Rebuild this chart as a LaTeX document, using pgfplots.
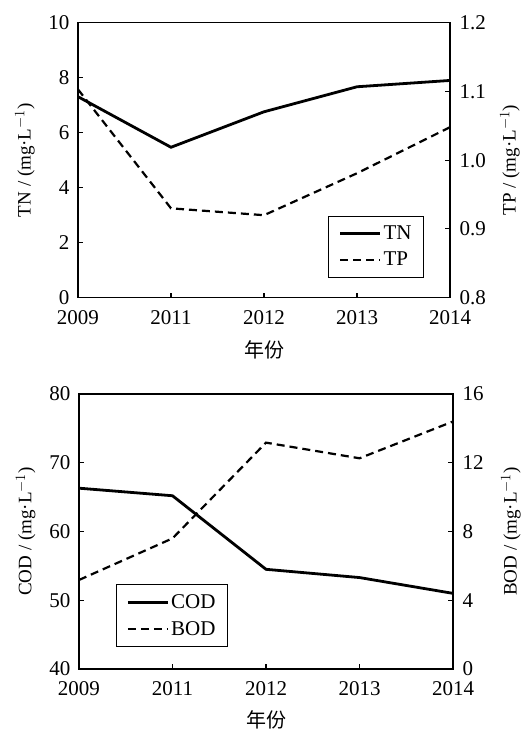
\documentclass[border=0pt]{standalone}
\usepackage{fontspec}
\setmainfont{Liberation Serif}
\newfontfamily\cjk{Noto Sans CJK SC}
\usepackage{pgfplots}
\pgfplotsset{compat=1.18}
\newcommand{\fs}{\fontsize{21}{25}\selectfont}
\newcommand{\fl}{\fontsize{19}{23}\selectfont}
\pgfplotsset{
  base/.style={
    scale only axis, width=372pt, height=275pt,
    xmin=0, xmax=4,
    /pgf/number format/assume math mode=true,
    tick label style={font=\fs},
    tick align=inside,
    major tick length=5pt,
    every tick/.style={black, line width=1.1pt},
    axis line style={line width=1.2pt},
    legend style={font=\fs, draw=black, line width=0.8pt, inner xsep=10pt, inner ysep=8pt, row sep=7pt},
    legend cell align=left,
    legend image code/.code={\draw[##1] (0pt,0pt) -- (40pt,0pt);},
  },
  leftax/.style={base,
    xtick={0,1,2,3,4},
    xticklabels={2009,2011,2012,2013,2014},
    xticklabel style={yshift=-9pt},
    yticklabel style={xshift=-5pt},
    xtick pos=bottom, ytick pos=left,
    every axis y label/.style={at={(axis description cs:-0.1425,0.5)}, anchor=center, rotate=90, font=\fl},
    every axis x label/.style={at={(axis description cs:0.5,-0.19)}, anchor=center},
  },
  rightax/.style={base,
    axis x line=none, axis y line*=right, ytick pos=right,
    yticklabel style={xshift=6pt},
    every axis y label/.style={at={(axis description cs:1.161,0.5)}, anchor=center, rotate=90, font=\fl},
  },
  sol/.style={black, solid, line width=2.8pt},
  das/.style={black, line width=2.2pt, dash pattern=on 8pt off 5pt},
}
\begin{document}
\begin{tikzpicture}
\path[use as bounding box] (0,0) rectangle (531pt,734pt);
% ---------- top panel ----------
\begin{axis}[leftax, at={(78pt,436.3pt)}, anchor=south west,
  ymin=0, ymax=10, ytick={0,2,4,6,8,10},
  ylabel={TN / (mg·L$^{-1}$)}, xlabel={\cjk\fontsize{20}{24}\selectfont 年份}]
\addplot[sol] coordinates {(0,7.31) (1,5.47) (2,6.76) (3,7.67) (4,7.90)};
\end{axis}
\begin{axis}[rightax, at={(78pt,436.3pt)}, anchor=south west,
  ymin=0.8, ymax=1.2, ytick={0.8,0.9,1.0,1.1,1.2},
  yticklabel style={/pgf/number format/.cd, fixed, fixed zerofill, precision=1},
  ylabel={TP / (mg·L$^{-1}$)},
  legend style={at={(0.93,0.072)}, anchor=south east}]
\addlegendimage{sol}
\addlegendentry{TN}
\addplot[das] coordinates {(0,1.103) (1,0.930) (2,0.920) (3,0.981) (4,1.048)};
\addlegendentry{TP}
\end{axis}
% ---------- bottom panel ----------
\begin{axis}[leftax, at={(79pt,65pt)}, anchor=south west, width=374pt,
  ymin=40, ymax=80, ytick={40,50,60,70,80},
  ylabel={COD / (mg·L$^{-1}$)}, xlabel={\cjk\fontsize{20}{24}\selectfont 年份},
  every axis x label/.style={at={(axis description cs:0.5,-0.185)}, anchor=center}]
\addplot[sol] coordinates {(0,66.3) (1,65.2) (2,54.5) (3,53.3) (4,51.0)};
\end{axis}
\begin{axis}[rightax, at={(79pt,65pt)}, anchor=south west, width=374pt,
  ymin=0, ymax=16, ytick={0,4,8,12,16},
  ylabel={BOD / (mg·L$^{-1}$)},
  every axis y label/.style={at={(axis description cs:1.155,0.5)}, anchor=center, rotate=90, font=\fl},
  legend style={at={(0.099,0.08)}, anchor=south west}]
\addlegendimage{sol}
\addlegendentry{COD}
\addplot[das] coordinates {(0,5.18) (1,7.60) (2,13.17) (3,12.26) (4,14.40)};
\addlegendentry{BOD}
\end{axis}
\end{tikzpicture}
\end{document}
